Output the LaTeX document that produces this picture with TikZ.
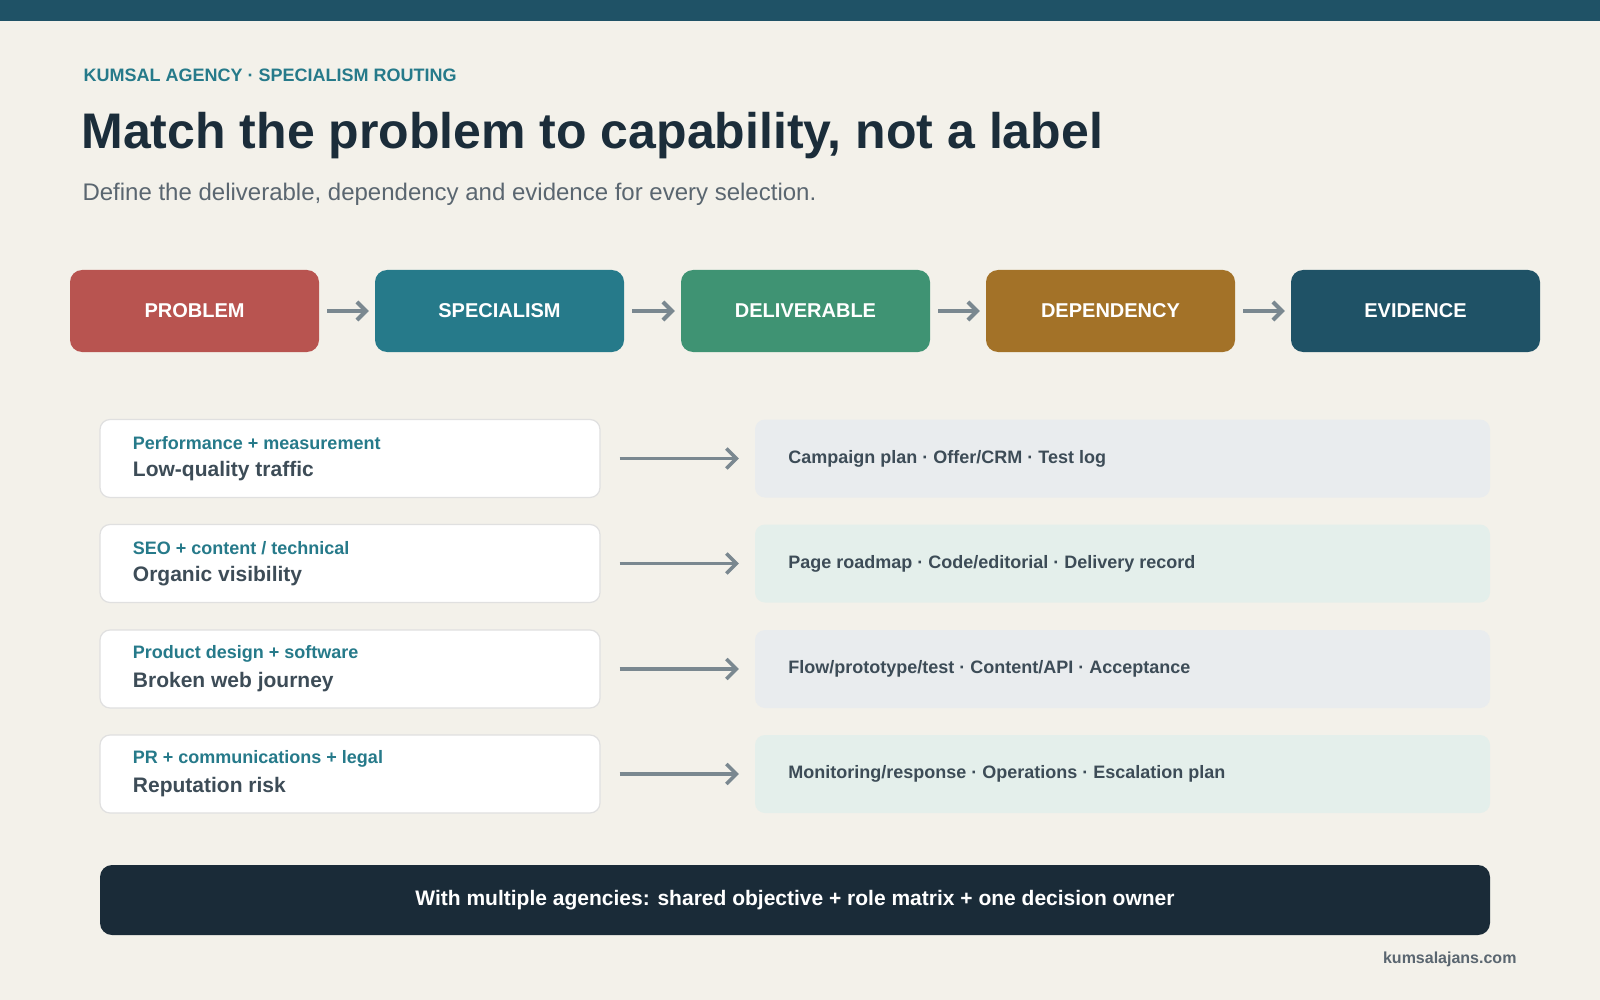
\documentclass[tikz,border=0pt]{standalone}
\usepackage{fontspec}
\setmainfont{Liberation Sans}
\usetikzlibrary{arrows.meta}
\definecolor{bg}{HTML}{F3F1EA}
\definecolor{bar}{HTML}{1F5266}
\definecolor{teal}{HTML}{267A8A}
\definecolor{dark}{HTML}{1B2D3A}
\definecolor{sub}{HTML}{5A6670}
\definecolor{cA}{HTML}{B85450}
\definecolor{cB}{HTML}{267A8A}
\definecolor{cC}{HTML}{3F9373}
\definecolor{cD}{HTML}{A37228}
\definecolor{cE}{HTML}{1F5266}
\definecolor{arr}{HTML}{7A8890}
\definecolor{rA}{HTML}{E9ECEE}
\definecolor{rB}{HTML}{E4EFEB}
\definecolor{foot}{HTML}{1A2B38}
\begin{document}
\begin{tikzpicture}[x=1pt,y=-1pt,
 stage/.style={rounded corners=12pt,minimum width=249pt,minimum height=82pt,text=white,font=\fontsize{20}{24}\selectfont\bfseries,inner sep=0},
 lbox/.style={draw=black!12,line width=1.2pt,fill=white,rounded corners=10pt,minimum width=500pt,minimum height=78pt,inner sep=0},
 rbox/.style={rounded corners=10pt,minimum width=735pt,minimum height=78pt,inner sep=0},
 flow/.style={draw=arr,line width=4pt,-{Straight Barb[length=9pt,width=18pt]}},
 row/.style={draw=arr,line width=3.5pt,-{Straight Barb[length=10pt,width=20pt]}}]
\useasboundingbox (0,0) rectangle (1600,1000);
\fill[bg] (0,0) rectangle (1600,1000);
\fill[bar] (0,0) rectangle (1600,21);
\node[anchor=west,text=teal,font=\fontsize{18}{20}\selectfont\bfseries] (hd) at (80,75) {KUMSAL AGENCY · SPECIALISM ROUTING};
\node[anchor=west,text=dark,font=\fontsize{50}{56}\selectfont\bfseries] (tt) at (78,136) {Match the problem to capability, not a label};
\node[anchor=west,text=sub,font=\fontsize{24}{28}\selectfont] (st) at (79,194) {Define the deliverable, dependency and evidence for every selection.};
\node[stage,fill=cA] (s1) at (194.5,311) {PROBLEM};
\node[stage,fill=cB] (s2) at (499.5,311) {SPECIALISM};
\node[stage,fill=cC] (s3) at (805.5,311) {DELIVERABLE};
\node[stage,fill=cD] (s4) at (1110.5,311) {DEPENDENCY};
\node[stage,fill=cE] (s5) at (1415.5,311) {EVIDENCE};
\foreach \a/\b in {s1/s2,s2/s3,s3/s4,s4/s5}{\draw[flow] ([xshift=8pt]\a.east) -- ([xshift=-6pt]\b.west);}
\foreach \i/\y/\t/\s/\r/\f in {
 1/458.5/{Low-quality traffic}/{Performance + measurement}/{Campaign plan · Offer/CRM · Test log}/rA,
 2/563.5/{Organic visibility}/{SEO + content / technical}/{Page roadmap · Code/editorial · Delivery record}/rB,
 3/669/{Broken web journey}/{Product design + software}/{Flow/prototype/test · Content/API · Acceptance}/rA,
 4/774/{Reputation risk}/{PR + communications + legal}/{Monitoring/response · Operations · Escalation plan}/rB}{
 \node[lbox] (l\i) at (350,\y) {};
 \node[anchor=west,text=dark!85,font=\fontsize{21}{24}\selectfont\bfseries] (lt\i) at ([xshift=30pt,yshift=-13pt]l\i.west) {\t};
 \node[anchor=west,text=teal,font=\fontsize{18}{20}\selectfont\bfseries] (ls\i) at ([xshift=30pt,yshift=15pt]l\i.west) {\s};
 \node[rbox,fill=\f] (r\i) at (1122.5,\y) {};
 \node[anchor=west,text=dark!85,font=\fontsize{18}{20}\selectfont\bfseries] (rt\i) at ([xshift=30pt]r\i.west) {\r};
 \draw[row] ([xshift=19pt]l\i.east) -- ([xshift=-16pt]r\i.west);
}
\node[fill=foot,rounded corners=12pt,minimum width=1390pt,minimum height=70pt,text=white,font=\fontsize{21}{24}\selectfont\bfseries] (ft) at (795,900) {With multiple agencies: shared objective + role matrix + one decision owner};
\node[anchor=east,text=sub,font=\fontsize{16}{18}\selectfont\bfseries] (url) at (1520,959) {kumsalajans.com};
\end{tikzpicture}
\end{document}
